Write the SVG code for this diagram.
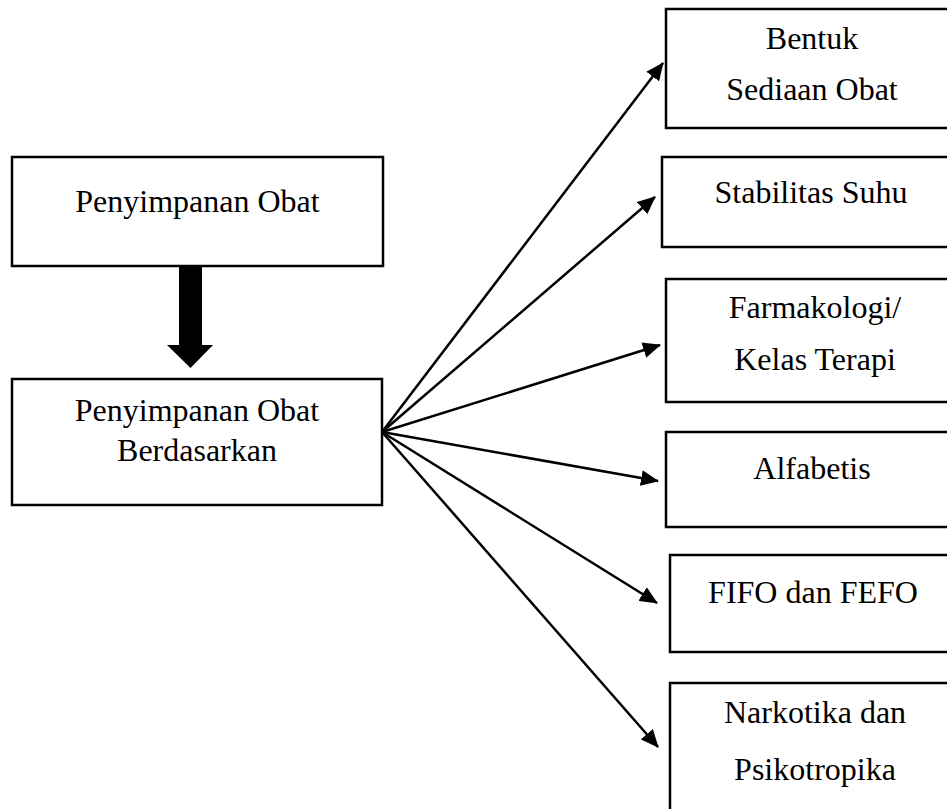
<svg xmlns="http://www.w3.org/2000/svg" width="947" height="809" viewBox="0 0 947 809">
<style>
.box{fill:#fff;stroke:#000;stroke-width:2.5}
.t{font-family:"Liberation Serif","Times New Roman",serif;font-size:32px;fill:#000;text-anchor:middle}
.c{stroke:#000;stroke-width:2.5;fill:none;marker-end:url(#ah)}
</style>
<defs>
<marker id="ah" markerWidth="18" markerHeight="16" refX="17" refY="8" orient="auto" markerUnits="userSpaceOnUse">
<path d="M0,0 L18,8 L0,16 Z" fill="#000"/>
</marker>
</defs>
<rect width="947" height="809" fill="#fff"/>
<g id="n1"><rect class="box" x="12" y="157" width="371" height="109"/><text class="t" x="197.5" y="212">Penyimpanan Obat</text></g>
<g id="n2"><rect class="box" x="12" y="379" width="370" height="126"/><text class="t" x="197" y="421">Penyimpanan Obat</text><text class="t" x="197" y="461">Berdasarkan</text></g>
<g id="r1"><rect class="box" x="666" y="9" width="300" height="119"/><text class="t" x="812" y="49">Bentuk</text><text class="t" x="812" y="100">Sediaan Obat</text></g>
<g id="r2"><rect class="box" x="662" y="157" width="300" height="90"/><text class="t" x="811" y="203">Stabilitas Suhu</text></g>
<g id="r3"><rect class="box" x="666" y="279" width="300" height="123"/><text class="t" x="815" y="318">Farmakologi/</text><text class="t" x="815" y="370">Kelas Terapi</text></g>
<g id="r4"><rect class="box" x="666" y="432" width="300" height="95"/><text class="t" x="812" y="479">Alfabetis</text></g>
<g id="r5"><rect class="box" x="670" y="555" width="300" height="97"/><text class="t" x="813" y="603">FIFO dan FEFO</text></g>
<g id="r6"><rect class="box" x="670" y="683" width="300" height="140"/><text class="t" x="815" y="723">Narkotika dan</text><text class="t" x="815" y="780">Psikotropika</text></g>
<g id="connectors">
<polygon points="179,266 202,266 202,345 213,345 190.5,368 167,345 179,345" fill="#000"/>
<line class="c" x1="382" y1="432" x2="663" y2="63"/>
<line class="c" x1="382" y1="432" x2="655" y2="197"/>
<line class="c" x1="382" y1="432" x2="660" y2="345"/>
<line class="c" x1="382" y1="432" x2="658" y2="481"/>
<line class="c" x1="382" y1="432" x2="657" y2="603"/>
<line class="c" x1="382" y1="432" x2="658" y2="747"/>
</g>
</svg>
